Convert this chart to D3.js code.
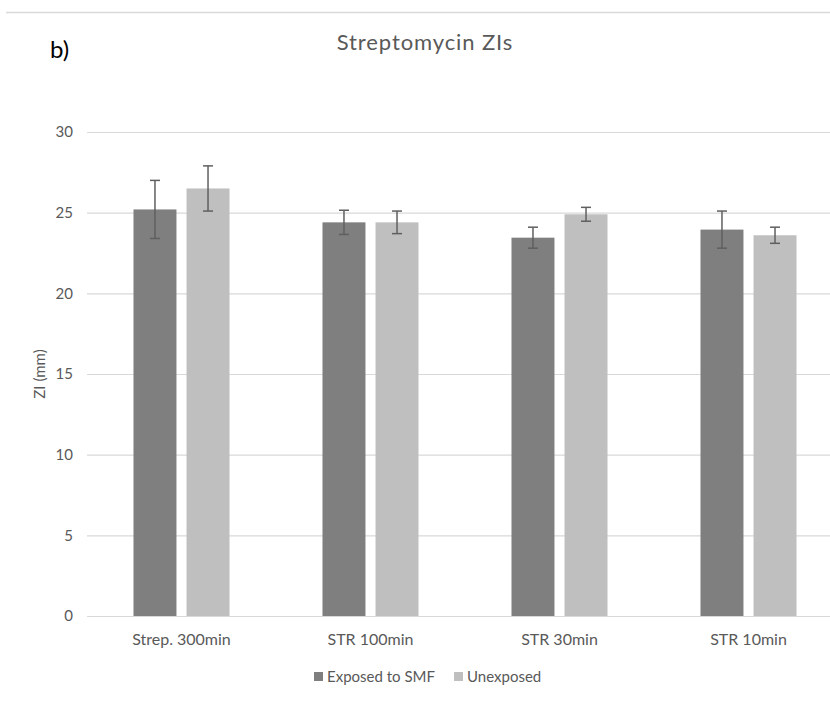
<!DOCTYPE html>
<html>
<head>
<meta charset="utf-8">
<script src="https://cdn.jsdelivr.net/npm/d3@7"></script>
<style>
  html, body { margin: 0; padding: 0; background: #fff; }
  svg { display: block; }
  text { font-family: "Lato", "Open Sans", sans-serif; fill: #595959; }
</style>
</head>
<body>
<svg id="chart" width="830" height="701"></svg>
<script>
// Zone of inhibition (mm) for streptomycin, mean ± error
const categories = ["Strep. 300min", "STR 100min", "STR 30min", "STR 10min"];
const seriesNames = ["Exposed to SMF", "Unexposed"];
const exposedMean = [25.2, 24.4, 23.45, 23.95];
const exposedErr = [1.8, 0.75, 0.65, 1.15];
const unexposedMean = [26.5, 24.4, 24.9, 23.6];
const unexposedErr = [1.4, 0.7, 0.43, 0.5];
const yTicks = [0, 5, 10, 15, 20, 25, 30];
const colors = ["#7f7f7f", "#bfbfbf"];

const svg = d3.select("#chart");
const W = 830, H = 701;

const plot = { left: 87, right: 843, top: 132, bottom: 616 };

const x = d3.scaleBand()
  .domain(categories)
  .range([plot.left, plot.right])
  .paddingInner(0.492)
  .paddingOuter(0.246);

const xSub = d3.scaleBand()
  .domain(seriesNames)
  .range([0, x.bandwidth()])
  .paddingInner(0.19)
  .paddingOuter(0);

const y = d3.scaleLinear().domain([0, 30]).range([plot.bottom, plot.top]);

// thin frame line along the top
svg.append("line")
  .attr("x1", 6).attr("x2", W).attr("y1", 12.5).attr("y2", 12.5)
  .attr("stroke", "#d9d9d9").attr("stroke-width", 1.5);

// gridlines + y tick labels
const yAxis = d3.axisLeft(y).tickValues(yTicks).tickSize(-(plot.right - plot.left)).tickPadding(14);
const gy = svg.append("g").attr("transform", `translate(${plot.left},0)`).call(yAxis);
gy.select(".domain").remove();
gy.selectAll(".tick line").attr("stroke", "#d9d9d9").attr("stroke-width", 1.2);
gy.selectAll(".tick text")
  .attr("font-size", 15).attr("fill", "#595959")
  .style("font-family", "Lato, 'Open Sans', sans-serif");

// data rows
const rows = categories.map((c, i) => ({
  cat: c,
  vals: [
    { s: seriesNames[0], v: exposedMean[i], e: exposedErr[i], c: colors[0] },
    { s: seriesNames[1], v: unexposedMean[i], e: unexposedErr[i], c: colors[1] }
  ]
}));

const groups = svg.append("g").selectAll("g").data(rows).join("g")
  .attr("transform", d => `translate(${x(d.cat)},0)`);

groups.selectAll("rect").data(d => d.vals).join("rect")
  .attr("x", d => xSub(d.s))
  .attr("width", xSub.bandwidth())
  .attr("y", d => y(d.v))
  .attr("height", d => y(0) - y(d.v))
  .attr("fill", d => d.c);

// error bars
const eb = groups.selectAll("g.err").data(d => d.vals).join("g").attr("class", "err")
  .attr("stroke", "#5f5f5f").attr("stroke-width", 1.5);
eb.append("line")
  .attr("x1", d => xSub(d.s) + xSub.bandwidth() / 2)
  .attr("x2", d => xSub(d.s) + xSub.bandwidth() / 2)
  .attr("y1", d => y(d.v + d.e)).attr("y2", d => y(d.v - d.e));
["+", "-"].forEach(sign => {
  eb.append("line")
    .attr("x1", d => xSub(d.s) + xSub.bandwidth() / 2 - 5)
    .attr("x2", d => xSub(d.s) + xSub.bandwidth() / 2 + 5)
    .attr("y1", d => y(sign === "+" ? d.v + d.e : d.v - d.e))
    .attr("y2", d => y(sign === "+" ? d.v + d.e : d.v - d.e));
});

// x category labels
svg.append("g").selectAll("text").data(categories).join("text")
  .attr("x", d => x(d) + x.bandwidth() / 2)
  .attr("y", 645)
  .attr("text-anchor", "middle")
  .attr("font-size", 16)
  .text(d => d);

// y axis title
svg.append("text")
  .attr("transform", `translate(45,${(plot.top + plot.bottom) / 2}) rotate(-90)`)
  .attr("text-anchor", "middle")
  .attr("font-size", 15)
  .text("ZI (mm)");

// chart title and panel letter
svg.append("text")
  .attr("x", 425).attr("y", 50)
  .attr("text-anchor", "middle")
  .attr("font-size", 22)
  .attr("letter-spacing", 0.9)
  .text("Streptomycin ZIs");

svg.append("text")
  .attr("x", 50).attr("y", 58)
  .attr("font-size", 24)
  .style("fill", "#000")
  .text("b)");

// legend
const legendX = [314, 454];
const lg = svg.append("g").selectAll("g").data(seriesNames).join("g")
  .attr("transform", (d, i) => `translate(${legendX[i]},672)`);
lg.append("rect").attr("width", 9).attr("height", 9).attr("fill", (d, i) => colors[i]);
lg.append("text").attr("x", 13).attr("y", 10).attr("font-size", 15).text(d => d);
</script>
</body>
</html>
